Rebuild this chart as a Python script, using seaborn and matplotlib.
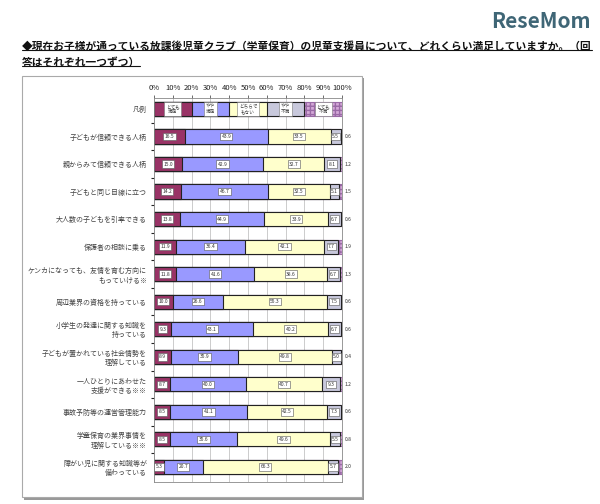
import matplotlib
matplotlib.use("Agg")
import matplotlib.pyplot as plt
from matplotlib.patches import Rectangle
from matplotlib.lines import Line2D
import seaborn as sns
import pandas as pd
import numpy as np

sns.set_theme(style="white")
plt.rcParams["font.family"] = ["Noto Sans CJK JP", "DejaVu Sans"]

title_lines = [
    "◆現在お子様が通っている放課後児童クラブ（学童保育）の児童支援員について、どれくらい満足していますか。（回",
    "答はそれぞれ一つずつ）",
]

legend_row = "凡例"
items = [
    "子どもが信頼できる人柄",
    "親からみて信頼できる人柄",
    "子どもと同じ目線に立つ",
    "大人数の子どもを引率できる",
    "保護者の相談に乗る",
    "ケンカになっても、友情を育む方向に\nもっていける※",
    "周辺業界の資格を持っている",
    "小学生の発達に関する知識を\n持っている",
    "子どもが置かれている社会情勢を\n理解している",
    "一人ひとりにあわせた\n支援ができる※※",
    "事故予防等の運営管理能力",
    "学童保育の業界事情を\n理解している※※",
    "障がい児に関する知識等が\n備わっている",
]
levels = ["とても満足", "やや満足", "どちらでもない", "やや不満", "とても不満"]
legend_texts = ["とても\n満足", "やや\n満足", "どちらで\nもない", "やや\n不満", "とても\n不満"]

very_satisfied = [16.5, 15.0, 14.2, 13.8, 11.9, 11.8, 10.0, 9.3, 8.9, 8.7, 8.5, 8.5, 5.3]
satisfied = [43.9, 42.9, 46.7, 44.9, 36.4, 41.6, 26.6, 43.1, 35.9, 40.0, 41.1, 35.6, 20.7]
neutral = [33.5, 32.7, 32.5, 33.9, 42.1, 38.6, 55.3, 40.2, 49.8, 40.7, 42.5, 49.6, 66.3]
dissatisfied = [5.5, 8.1, 5.1, 6.7, 7.7, 6.7, 7.5, 6.7, 5.0, 9.3, 7.3, 5.5, 5.7]
very_dissatisfied = [0.6, 1.2, 1.5, 0.6, 1.9, 1.3, 0.6, 0.6, 0.4, 1.2, 0.6, 0.8, 2.0]

colors = ["#993366", "#9999FF", "#FFFFCC", "#C8C8DC", "#D4A8D8"]

df = pd.DataFrame({
    "item": [legend_row] + items,
    levels[0]: [20] + very_satisfied,
    levels[1]: [20] + satisfied,
    levels[2]: [20] + neutral,
    levels[3]: [20] + dissatisfied,
    levels[4]: [20] + very_dissatisfied,
})
cum = df[levels].cumsum(axis=1)

fig = plt.figure(figsize=(6, 5.04), dpi=100)
W, H = 600, 504

# outer frame with shadow
fig.add_artist(Rectangle((24 / W, 1 - 500 / H), 340 / W, 422 / H, transform=fig.transFigure,
                         fc="#999999", ec="none", zorder=-3))
fig.add_artist(Rectangle((22 / W, 1 - 497 / H), 340 / W, 421 / H, transform=fig.transFigure,
                         fc="white", ec="#aaaaaa", lw=0.8, zorder=-2))

ax = fig.add_axes([154 / W, 1 - 482 / H, 188 / W, 384.5 / H])

for i in reversed(range(len(levels))):
    n0 = len(ax.patches)
    plot_df = pd.DataFrame({"item": df["item"], "x": cum[levels[i]]})
    sns.barplot(data=plot_df, x="x", y="item", orient="h", color=colors[i], saturation=1,
                width=0.52, edgecolor="#222222", linewidth=0.8, ax=ax)
    if i == 4:
        for p in ax.patches[n0:]:
            p.set_edgecolor("#9a6aa6")
            p.set_hatch("++++")

# value labels
box = dict(boxstyle="square,pad=0.25", fc="white", ec="#555555", lw=0.4)
for r in range(1, len(df)):
    row = df.loc[r, levels].values
    c = cum.loc[r, levels].values
    for k in range(4):
        ax.text(c[k] - row[k] / 2, r, f"{row[k]:.1f}", ha="center", va="center",
                fontsize=3.6, color="#333333", bbox=box, zorder=5)
    ax.text(101.5, r, f"{row[4]:.1f}", ha="left", va="center", fontsize=3.6,
            color="#333333", clip_on=False)

# legend row text
for k in range(5):
    ax.text(20 * k + 10, 0, legend_texts[k], ha="center", va="center", fontsize=3.3,
            linespacing=1.0, color="#333333",
            bbox=dict(boxstyle="square,pad=0.35", fc="white", ec="#777777", lw=0.4), zorder=5)

ax.set_xlim(0, 100)
ax.set_ylim(len(df) - 1 + 0.55, -0.42)
ax.xaxis.tick_top()
ax.set_xticks(range(0, 101, 10))
ax.set_xticklabels([f"{t}%" for t in range(0, 101, 10)])
ax.tick_params(axis="x", labelsize=5.5, length=2.5, width=0.6, color="#555555",
               pad=1.5, labelcolor="#222222", direction="out")
ax.tick_params(axis="y", which="major", labelsize=5, length=0, pad=5, labelcolor="#444444")
ax.set_yticks(np.arange(0.5, len(df) - 1, 1), minor=True)
ax.tick_params(axis="y", which="minor", left=True, length=2, width=0.8, color="#222222")
ax.set_xlabel("")
ax.set_ylabel("")
ax.grid(axis="x", color="#c4c4c4", lw=0.6)
ax.grid(axis="y", visible=False)
ax.set_axisbelow(True)
for s in ax.spines.values():
    s.set_color("#888888")
    s.set_linewidth(0.6)

# title with underline, sized so the first line spans about 568 px
t1 = fig.text(22 / W, 1 - 46 / H, title_lines[0], ha="left", va="center",
              fontsize=8, fontweight="bold", color="#111111")
t2 = fig.text(22 / W, 1 - 62 / H, title_lines[1], ha="left", va="center",
              fontsize=8, fontweight="bold", color="#111111")
fig.text(0.985, 1 - 22 / H, "ReseMom", ha="right", va="center", fontsize=15,
         fontweight="bold", color="#3f6676")

fig.canvas.draw()
w1 = t1.get_window_extent().width
fs = 8 * 568 / w1
t1.set_fontsize(fs)
t2.set_fontsize(fs)
fig.canvas.draw()

inv = fig.transFigure.inverted()
for t in (t1, t2):
    bb = t.get_window_extent()
    (x0, y0), (x1, _) = inv.transform([(bb.x0, bb.y0), (bb.x1, bb.y1)])
    fig.add_artist(Line2D([x0, x1], [y0 + 0.002, y0 + 0.002], transform=fig.transFigure,
                          color="#111111", lw=0.8))

fig.savefig("out.png", dpi=100)
plt.close(fig)
